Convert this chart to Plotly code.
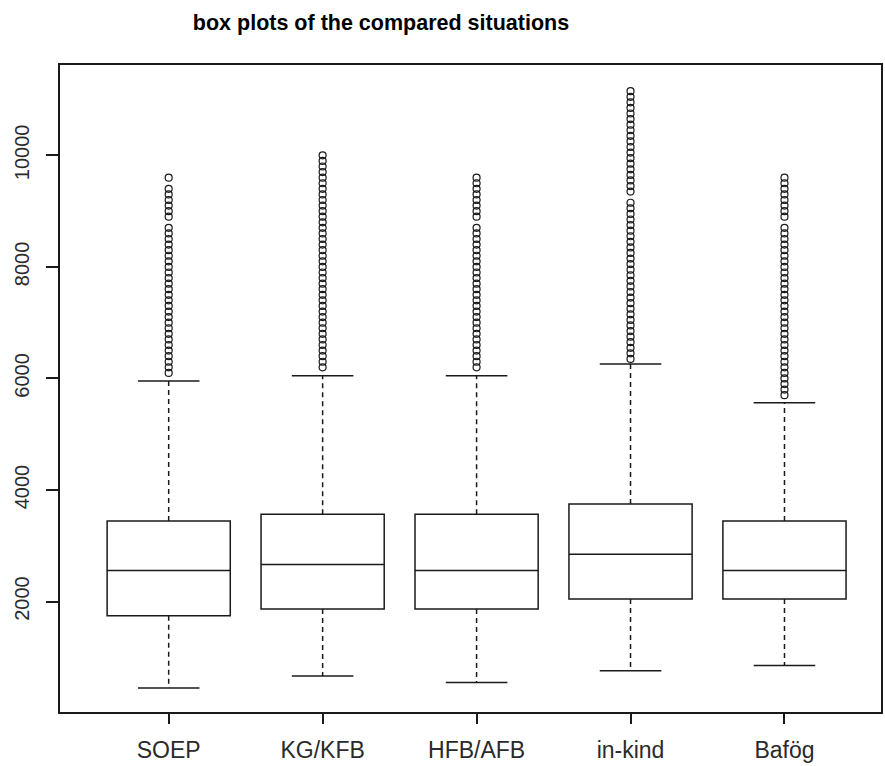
import plotly.graph_objects as go

# ---- data ----
categories = ["SOEP", "KG/KFB", "HFB/AFB", "in-kind", "Bafög"]
q1 = [1745, 1865, 1865, 2045, 2045]
median = [2555, 2665, 2555, 2850, 2555]
q3 = [3445, 3565, 3565, 3750, 3445]
lower_whisker = [450, 665, 550, 760, 855]
upper_whisker = [5955, 6050, 6050, 6260, 5565]

outliers_soep = [9600, 9400, 9300, 9200, 9100, 9000, 8900,
                 8700, 8600, 8500, 8400, 8300, 8200, 8100, 8000, 7900, 7800,
                 7700, 7600, 7500, 7400, 7300, 7200, 7100, 7000, 6900, 6800,
                 6700, 6600, 6500, 6400, 6300, 6200, 6100]
outliers_kg = [10000, 9900, 9800, 9700, 9600, 9500, 9400, 9300, 9200, 9100,
               9000, 8900, 8800, 8700, 8600, 8500, 8400, 8300, 8200, 8100,
               8000, 7900, 7800, 7700, 7600, 7500, 7400, 7300, 7200, 7100,
               7000, 6900, 6800, 6700, 6600, 6500, 6400, 6300, 6200]
outliers_hfb = [9600, 9500, 9400, 9300, 9200, 9100, 9000, 8900,
                8700, 8600, 8500, 8400, 8300, 8200, 8100, 8000, 7900, 7800,
                7700, 7600, 7500, 7400, 7300, 7200, 7100, 7000, 6900, 6800,
                6700, 6600, 6500, 6400, 6300, 6200]
outliers_inkind = [11150, 11050, 10950, 10850, 10750, 10650, 10550, 10450,
                   10350, 10250, 10150, 10050, 9950, 9850, 9750, 9650, 9550,
                   9450, 9350,
                   9150, 9050, 8950, 8850, 8750, 8650, 8550, 8450, 8350, 8250,
                   8150, 8050, 7950, 7850, 7750, 7650, 7550, 7450, 7350, 7250,
                   7150, 7050, 6950, 6850, 6750, 6650, 6550, 6450, 6350]
outliers_bafog = [9600, 9500, 9400, 9300, 9200, 9100, 9000, 8900,
                  8700, 8600, 8500, 8400, 8300, 8200, 8100, 8000, 7900, 7800,
                  7700, 7600, 7500, 7400, 7300, 7200, 7100, 7000, 6900, 6800,
                  6700, 6600, 6500, 6400, 6300, 6200, 6100, 6000, 5900, 5800,
                  5700]
outliers = [outliers_soep, outliers_kg, outliers_hfb, outliers_inkind, outliers_bafog]

y_tick_values = [2000, 4000, 6000, 8000, 10000]
y_tick_labels = ["2000", "4000", "6000", "8000", "10000"]

title_text = "box plots of the compared situations"

# ---- styling ----
INK = "#1a1a1a"
TXT = "#2a2a2a"
LW = 1.5
FONT = "Liberation Sans, Arial, sans-serif"

positions = list(range(1, len(categories) + 1))

fig = go.Figure()

# boxes (median + quartiles)
fig.add_trace(go.Box(
    x=positions, q1=q1, median=median, q3=q3,
    lowerfence=q1, upperfence=q3,
    width=0.8, whiskerwidth=0,
    line=dict(color=INK, width=LW),
    fillcolor="rgba(255,255,255,0)",
    boxpoints=False, showlegend=False, hoverinfo="skip",
))

# dashed whiskers
wx, wy = [], []
for p, a, b, lo, hi in zip(positions, q1, q3, lower_whisker, upper_whisker):
    wx += [p, p, None, p, p, None]
    wy += [b, hi, None, a, lo, None]
fig.add_trace(go.Scatter(x=wx, y=wy, mode="lines",
                         line=dict(color=INK, width=LW, dash="5px,4px"),
                         showlegend=False, hoverinfo="skip"))

# whisker caps
cx, cy = [], []
for p, lo, hi in zip(positions, lower_whisker, upper_whisker):
    cx += [p - 0.2, p + 0.2, None, p - 0.2, p + 0.2, None]
    cy += [hi, hi, None, lo, lo, None]
fig.add_trace(go.Scatter(x=cx, y=cy, mode="lines",
                         line=dict(color=INK, width=LW),
                         showlegend=False, hoverinfo="skip"))

# outliers
for p, vals in zip(positions, outliers):
    fig.add_trace(go.Scatter(
        x=[p] * len(vals), y=vals, mode="markers",
        marker=dict(symbol="circle-open", size=7, color=INK,
                    line=dict(width=1.2, color=INK)),
        showlegend=False, hoverinfo="skip"))

fig.update_layout(
    width=885, height=766,
    margin=dict(l=60, r=2, t=65, b=54),
    paper_bgcolor="white", plot_bgcolor="white",
    font=dict(family=FONT, color=INK),
    title=dict(text="<b>" + title_text + "</b>",
               xref="container", yref="container",
               x=381 / 885, xanchor="center",
               y=1 - 22 / 766, yanchor="middle",
               font=dict(family=FONT, size=21.5, color="#000")),
)

fig.update_xaxes(
    range=[0.294, 5.627],
    tickmode="array", tickvals=positions, ticktext=categories,
    ticks="outside", ticklen=10, tickwidth=LW, tickcolor=INK,
    showline=True, linecolor=INK, linewidth=LW, mirror=True,
    showgrid=False, zeroline=False,
    tickfont=dict(family=FONT, size=23, color=TXT),
    ticklabelstandoff=7,
)
fig.update_yaxes(
    range=[20, 11620],
    tickmode="array", tickvals=y_tick_values, ticktext=y_tick_labels,
    tickangle=-90,
    ticks="outside", ticklen=12, tickwidth=LW, tickcolor=INK,
    showline=True, linecolor=INK, linewidth=LW, mirror=True,
    showgrid=False, zeroline=False,
    tickfont=dict(family=FONT, size=20, color=TXT),
    ticklabelstandoff=9,
)

fig.write_html(
    "out.html",
    config={"displayModeBar": False},
    post_script="document.body.style.margin='0';document.body.style.padding='0';",
)
